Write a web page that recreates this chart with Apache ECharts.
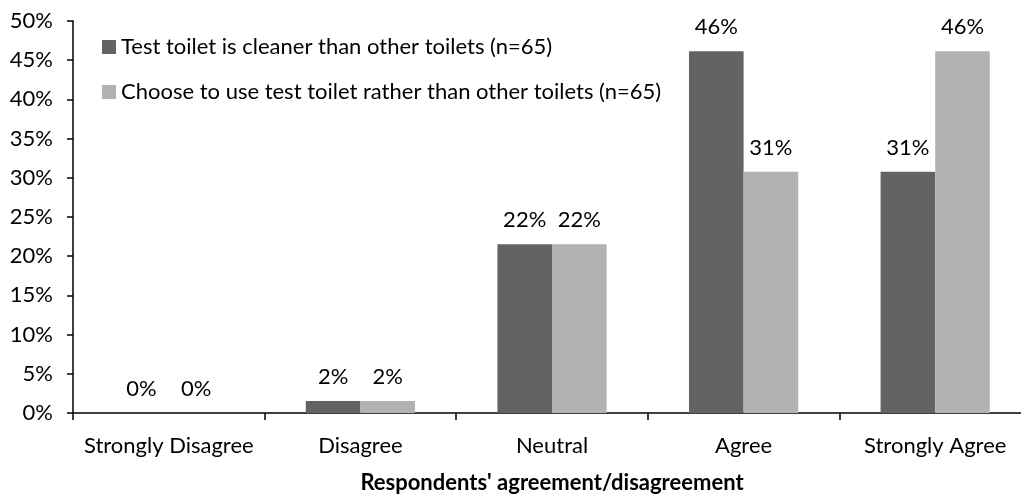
<!DOCTYPE html>
<html><head><meta charset="utf-8">
<script src="https://cdn.jsdelivr.net/npm/echarts@6/dist/echarts.min.js"></script>
<style>html,body{margin:0;padding:0;background:#fff;overflow:hidden}#c{width:1021px;height:494px}</style>
</head><body><div id="c"></div>
<script>
const categories = ['Strongly Disagree', 'Disagree', 'Neutral', 'Agree', 'Strongly Agree'];
const seriesNames = ['Test toilet is cleaner than other toilets (n=65)', 'Choose to use test toilet rather than other toilets (n=65)'];
const cleaner = [0, 1.54, 21.54, 46.15, 30.77];
const choose = [0, 1.54, 21.54, 30.77, 46.15];
const yTicks = [0, 5, 10, 15, 20, 25, 30, 35, 40, 45, 50];
const xName = "Respondents' agreement/disagreement";

const font = 'Lato';
const fs = 22;
const chart = echarts.init(document.getElementById('c'));
const lbl = {show: true, position: 'top', distance: 13, color: '#000', fontFamily: font, fontSize: fs,
  formatter: p => Math.round(p.value) + '%'};
chart.setOption({
  animation: false,
  textStyle: {fontFamily: font},
  grid: {left: 73, right: -10, top: 21, bottom: 81, containLabel: false, outerBoundsMode: 'none'},
  legend: {
    orient: 'vertical', left: 97, top: 31, itemWidth: 14, itemHeight: 14, itemGap: 23,
    icon: 'rect', textStyle: {fontFamily: font, fontSize: fs, color: '#000', padding: [0,0,0,0]},
    data: seriesNames
  },
  xAxis: {
    type: 'category', data: categories,
    axisLine: {lineStyle: {color: '#000', width: 1.5}},
    axisTick: {show: true, length: 7, lineStyle: {color: '#000', width: 1.5}},
    axisLabel: {color: '#000', fontFamily: font, fontSize: fs, margin: 22, interval: 0},
    name: xName, nameLocation: 'middle', nameGap: 59,
    nameTextStyle: {fontWeight: 'bold', color: '#000', fontFamily: font, fontSize: fs}
  },
  yAxis: {
    type: 'value', min: yTicks[0], max: yTicks[yTicks.length-1], interval: 5,
    axisLine: {show: true, lineStyle: {color: '#000', width: 1.5}},
    axisTick: {show: true, length: 6, lineStyle: {color: '#000', width: 1.5}},
    splitLine: {show: false},
    axisLabel: {color: '#000', fontFamily: font, fontSize: fs, margin: 20, formatter: v => v + '%'}
  },
  series: [
    {name: seriesNames[0], type: 'bar', data: cleaner, itemStyle: {color: '#636363'}, barGap: '0%', barCategoryGap: '43%', label: lbl},
    {name: seriesNames[1], type: 'bar', data: choose, itemStyle: {color: '#b2b2b2'}, barGap: '0%', barCategoryGap: '43%', label: lbl}
  ]
});
</script></body></html>
